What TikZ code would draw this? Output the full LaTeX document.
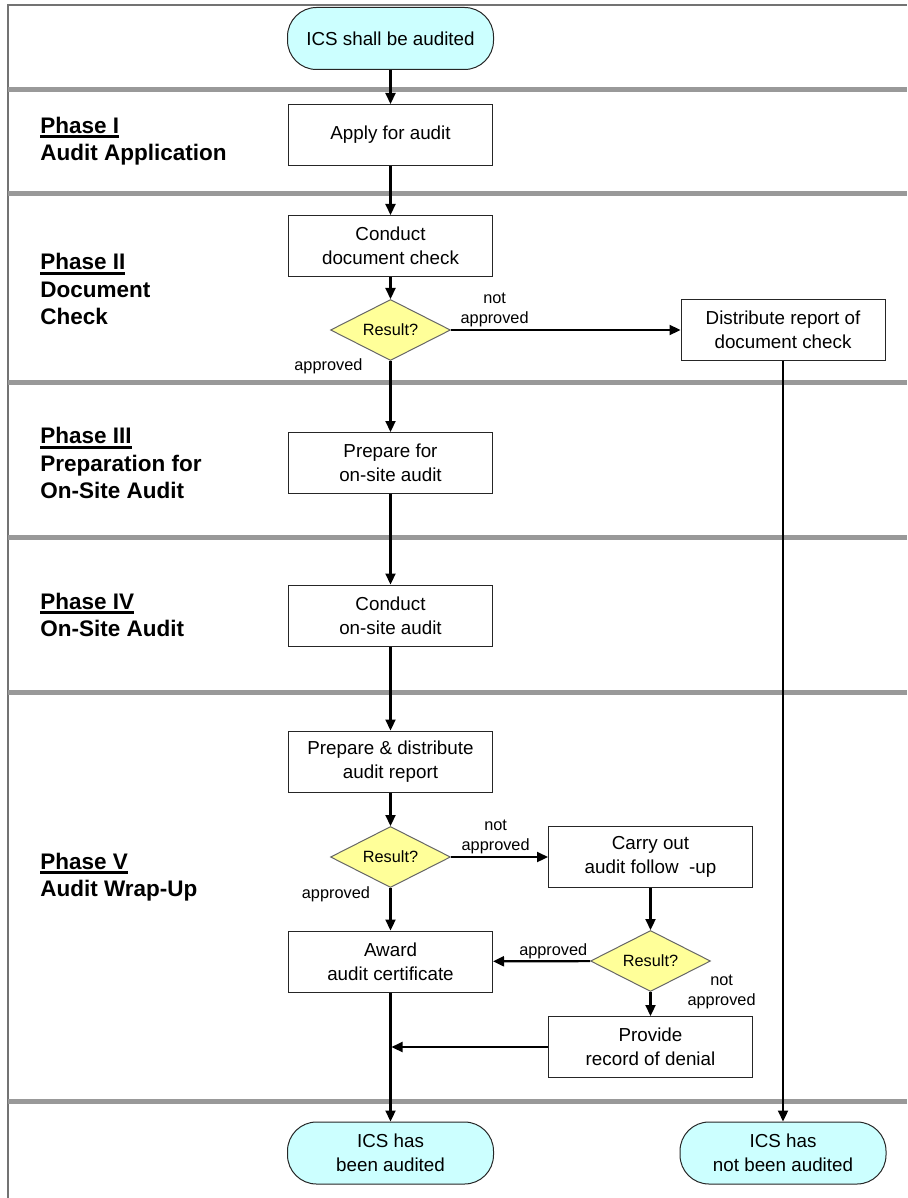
\documentclass[tikz,border=0pt]{standalone}
\usepackage{fontspec}
\setmainfont{Liberation Sans}
\usetikzlibrary{shapes.geometric,arrows.meta}
\definecolor{termcyan}{HTML}{CCFFFF}
\definecolor{resultyellow}{HTML}{FFFF99}
\definecolor{bandgray}{HTML}{999999}
\newcommand{\stepfont}{\fontsize{18.8}{24}\selectfont}
\newcommand{\lblfont}{\fontsize{16.3}{20}\selectfont}
\newcommand{\phasefont}{\fontsize{22.5}{27.5}\selectfont\bfseries}
\newcommand{\phaseul}[1]{\setbox0\hbox{#1}\rlap{\vrule height -2.2pt depth 5pt width \wd0}\box0}
\begin{document}
\begin{tikzpicture}[x=1pt, y=-1pt, node distance=100pt, thick]
                \tikzstyle{stepbox} = [rectangle, draw=black!85, line width=1pt, minimum width=204pt, minimum height=61pt, align=center, font=\stepfont, inner sep=2pt]
                \tikzstyle{term} = [rectangle, rounded corners=29pt, draw=black!85, line width=1pt, fill=termcyan, minimum width=206pt, minimum height=62pt, align=center, font=\stepfont]
                \tikzstyle{result} = [diamond, aspect=2, draw=black!60, line width=1pt, fill=resultyellow, minimum width=120pt, minimum height=61pt, inner sep=1pt, font=\lblfont]
                \tikzstyle{phase} = [anchor=west, align=left, font=\phasefont, inner sep=0pt]
                \tikzstyle{lbl} = [font=\lblfont, align=center, inner sep=2pt]
                \tikzstyle{flow} = [-{Triangle[length=11pt,width=10pt]}, line width=2.2pt]
                \tikzstyle{band} = [line width=5pt, bandgray]

                \useasboundingbox (0,0) rectangle (907,1198);

                % Frame and phase bands
                \draw[line width=1.5pt, black!55] (8,1198) -- (8,5) -- (907,5);
                \foreach \y in {90,194,382,537,692,1101}
                    \draw[band] (8,\y) -- (907,\y);

                % Phase labels (left column)
                \node[phase] (ph1) at (40,141) {\phaseul{Phase I}\\Audit Application};
                \node[phase] (ph2) at (40,289) {\phaseul{Phase II}\\Document\\Check};
                \node[phase] (ph3) at (40,463) {\phaseul{Phase III}\\Preparation for\\On-Site Audit};
                \node[phase] (ph4) at (40,615) {\phaseul{Phase IV}\\On-Site Audit};
                \node[phase] (ph5) at (40,877) {\phaseul{Phase V}\\Audit Wrap-Up};

                % Main column
                \node[term] (start) at (390.5,38.5) {ICS shall be audited};
                \node[stepbox] (apply) [below of=start, node distance=96.5pt] {Apply for audit};
                \node[stepbox] (doccheck) [below of=apply, node distance=111pt] {Conduct\\document check};
                \node[result] (res1) [below of=doccheck, node distance=84pt] {Result?};
                \node[stepbox] (prepsite) [below of=res1, node distance=133pt] {Prepare for\\on-site audit};
                \node[stepbox] (onsite) [below of=prepsite, node distance=152.5pt] {Conduct\\on-site audit};
                \node[stepbox] (report) [below of=onsite, node distance=146pt] {Prepare \& distribute\\audit report};
                \node[result] (res2) [below of=report, node distance=95.5pt] {Result?};
                \node[stepbox] (award) [below of=res2, node distance=104.5pt] {Award\\audit certificate};
                \node[term] (done) [below of=award, node distance=191.5pt] {ICS has\\been audited};

                % Right column
                \node[stepbox] (distrib) [right of=res1, node distance=392.5pt] {Distribute report of\\document check};
                \node[stepbox] (followup) [right of=res2, node distance=260pt] {Carry out\\audit follow\ \ -up};
                \node[result] (res3) [below of=followup, node distance=104pt] {Result?};
                \node[stepbox] (denial) [below of=res3, node distance=86pt] {Provide\\record of denial};
                \node[term] (notdone) [right of=done, node distance=392.5pt] {ICS has\\not been audited};
                \coordinate (join) at (award.south |- denial.west);

                \draw[flow] (start) -- (apply);
                \draw[flow] (apply) -- (doccheck);
                \draw[flow] (doccheck) -- (res1);
                \draw[flow] (res1) -- node[lbl, pos=0.08, left, xshift=-25pt] {approved} (prepsite);
                \draw[flow] (res1) -- node[lbl, pos=0.19, above] {not\\approved} (distrib);
                \draw[flow] (distrib) -- (notdone);
                \draw[flow] (prepsite) -- (onsite);
                \draw[flow] (onsite) -- (report);
                \draw[flow] (report) -- (res2);
                \draw[flow] (res2) -- node[lbl, pos=0.14, left, xshift=-17.5pt] {approved} (award);
                \draw[flow] (res2) -- node[lbl, pos=0.46, above] {not\\approved} (followup);
                \draw[flow] (followup) -- (res3);
                \draw[flow] (res3) -- node[lbl, pos=0.38, above, inner sep=1pt] {approved} (award);
                \draw[flow] (res3) -- node[lbl, pos=0, right, xshift=34pt] {not\\approved} (denial);
                \draw[flow, shorten >=1pt] (denial) -- (join);
                \draw[flow] (award) -- (done);
            \end{tikzpicture}
\end{document}
